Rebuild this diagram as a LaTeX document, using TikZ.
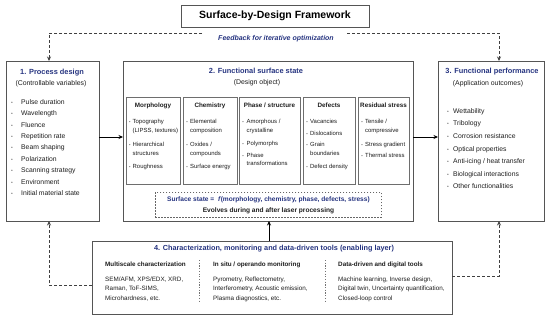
\documentclass[tikz,border=0pt]{standalone}
\usepackage{fontspec}
\setmainfont{Liberation Sans}
\usetikzlibrary{arrows.meta}
\definecolor{tblue}{RGB}{38,52,128}
\definecolor{bgray}{RGB}{85,85,85}
\definecolor{igray}{RGB}{110,110,110}
\definecolor{txt}{RGB}{30,30,30}
\begin{document}
\begin{tikzpicture}[x=1pt,y=-1pt,
  box/.style={draw=bgray, line width=0.8pt, inner sep=0pt, outer sep=0pt, anchor=north west, fill=white},
  ibox/.style={draw=igray, line width=0.6pt, inner sep=0pt, outer sep=0pt, anchor=north west},
  ttl/.style={font=\fontsize{7.4}{9}\selectfont\bfseries, text=tblue, anchor=base, inner sep=0pt},
  subt/.style={font=\fontsize{6.9}{9}\selectfont, text=txt, anchor=base, inner sep=0pt},
  item/.style={font=\fontsize{6.8}{9}\selectfont, text=txt, anchor=base west, inner sep=0pt},
  bul/.style={font=\fontsize{5}{6}\selectfont, text=black!55, anchor=base, inner sep=0pt},
  sbul/.style={font=\fontsize{4.2}{6}\selectfont, text=black!60, anchor=base, inner sep=0pt},
  hd/.style={font=\fontsize{6.3}{8}\selectfont\bfseries, text=txt, anchor=base, inner sep=0pt},
  sm/.style={font=\fontsize{5.95}{8}\selectfont, text=txt, anchor=base west, inner sep=0pt},
  bhd/.style={font=\fontsize{6.3}{8}\selectfont\bfseries, text=txt, anchor=base west, inner sep=0pt},
  bsm/.style={font=\fontsize{6.3}{8}\selectfont, text=txt, anchor=base west, inner sep=0pt},
  arr/.style={draw=black, line width=0.8pt, -{Stealth[length=4.5pt,width=4pt]}},
  darr/.style={draw=black!75, line width=0.8pt, dash pattern=on 3pt off 2pt, -{Stealth[length=4.5pt,width=4pt]}},
]
\useasboundingbox (0,0) rectangle (550,319);

% title
\node[draw=bgray, line width=0.9pt, minimum width=188pt, minimum height=22pt, inner sep=0pt,
      font=\fontsize{10.5}{12}\selectfont\bfseries] (title) at (275,16) {Surface-by-Design Framework};
\node[font=\fontsize{7}{8}\selectfont\bfseries\itshape, text=tblue, inner sep=0pt, anchor=base] (fb) at (276,40.5) {Feedback for iterative optimization};
\coordinate (fbL) at (202,33);
\coordinate (fbR) at (347,33);

% main boxes
\node[box, minimum width=93pt, minimum height=160pt] (b1) at (6,61) {};
\node[box, minimum width=290pt, minimum height=160pt] (b2) at (123,61) {};
\node[box, minimum width=106pt, minimum height=160pt] (b3) at (438,61) {};
\node[box, minimum width=360pt, minimum height=73pt] (b4) at (92,241) {};

% box 1
\node[ttl] (t1) at (52,74.5) {1. Process design};
\node[subt] (s1) at (51,85.3) {(Controllable variables)};
\foreach \t [count=\i] in {Pulse duration,Wavelength,Fluence,Repetition rate,Beam shaping,Polarization,Scanning strategy,Environment,Initial material state}{
  \node[bul] (p1b\i) at (12,{104.3+(\i-1)*11.4}) {•};
  \node[item] (p1t\i) at (21,{104.3+(\i-1)*11.4}) {\t};
}

% box 2
\node[ttl] (t2) at (256,73.5) {2. Functional surface state};
\node[subt] (s2) at (257,84.3) {(Design object)};
\node[ibox, minimum width=54pt, minimum height=87pt] (m) at (126,97) {};
\node[ibox, minimum width=54pt, minimum height=87pt] (c) at (183,97) {};
\node[ibox, minimum width=61pt, minimum height=87pt] (ph) at (239,97) {};
\node[ibox, minimum width=52pt, minimum height=87pt] (d) at (303,97) {};
\node[ibox, minimum width=51pt, minimum height=87pt] (r) at (358,97) {};
\node[hd] (mh) at (153,107.2) {Morphology};
\node[hd] (ch) at (210,107.2) {Chemistry};
\node[hd] (phh) at (269.5,107.2) {Phase / structure};
\node[hd] (dh) at (329,107.2) {Defects};
\node[hd] (rh) at (383.5,107.2) {Residual stress};

% morphology
\node[sbul] (mb1) at (129.8,123) {•}; \node[sm] (m1) at (132.5,123) {Topography};
\node[sm] (m1b) at (132.5,132) {(LIPSS, textures)};
\node[sbul] (mb2) at (129.8,146) {•}; \node[sm] (m2) at (132.5,146) {Hierarchical};
\node[sm] (m2b) at (132.5,155) {structures};
\node[sbul] (mb3) at (129.8,168) {•}; \node[sm] (m3) at (132.5,168) {Roughness};
% chemistry
\node[sbul] (cb1) at (187,123) {•}; \node[sm] (c1) at (190,123) {Elemental};
\node[sm] (c1b) at (190,132) {composition};
\node[sbul] (cb2) at (187,146) {•}; \node[sm] (c2) at (190,146) {Oxides /};
\node[sm] (c2b) at (190,155) {compounds};
\node[sbul] (cb3) at (187,168) {•}; \node[sm] (c3) at (190,168) {Surface energy};
% phase
\node[sbul] (phb1) at (243,123) {•}; \node[sm] (ph1) at (246.5,123) {Amorphous /};
\node[sm] (ph1b) at (246.5,132) {crystalline};
\node[sbul] (phb2) at (243,145) {•}; \node[sm] (ph2) at (246.5,145) {Polymorphs};
\node[sbul] (phb3) at (243,157) {•}; \node[sm] (ph3) at (246.5,157) {Phase};
\node[sm] (ph3b) at (246.5,165.5) {transformations};
% defects
\node[sbul] (db1) at (307,123) {•}; \node[sm] (d1) at (310,123) {Vacancies};
\node[sbul] (db2) at (307,135) {•}; \node[sm] (d2) at (310,135) {Dislocations};
\node[sbul] (db3) at (307,146) {•}; \node[sm] (d3) at (310,146) {Grain};
\node[sm] (d3b) at (310,155) {boundaries};
\node[sbul] (db4) at (307,168) {•}; \node[sm] (d4) at (310,168) {Defect density};
% residual stress
\node[sbul] (rb1) at (362,123) {•}; \node[sm] (r1) at (365,123) {Tensile /};
\node[sm] (r1b) at (365,132) {compressive};
\node[sbul] (rb2) at (362,146) {•}; \node[sm] (r2) at (365,146) {Stress gradient};
\node[sbul] (rb3) at (362,157) {•}; \node[sm] (r3) at (365,157) {Thermal stress};

% surface state dashed box
\node[draw=black!60, line width=0.6pt, dash pattern=on 1.5pt off 1.5pt, minimum width=226pt, minimum height=25pt, inner sep=0pt, anchor=north west] (ss) at (155,192) {};
\node[font=\fontsize{6.6}{8}\selectfont\bfseries, text=tblue, anchor=base, inner sep=0pt] (ss1) at (268.5,201.3) {Surface state =\ \ \textit{f}(morphology, chemistry, phase, defects, stress)};
\node[font=\fontsize{6.6}{8}\selectfont\bfseries, text=txt, anchor=base, inner sep=0pt] (ss2) at (268.5,212.3) {Evolves during and after laser processing};

% box 3
\node[ttl] (t3) at (492,73.5) {3. Functional performance};
\node[subt] (s3) at (488,85.3) {(Application outcomes)};
\foreach \t [count=\i] in {Wettability,Tribology,Corrosion resistance,Optical properties,Anti-icing / heat transfer,Biological interactions,Other functionalities}{
  \node[bul] (p3b\i) at (448,{113.3+(\i-1)*12.6}) {•};
  \node[item] (p3t\i) at (453,{113.3+(\i-1)*12.6}) {\t};
}

% box 4
\node[font=\fontsize{7.3}{9}\selectfont\bfseries, text=tblue, anchor=base, inner sep=0pt] (t4) at (274,250.5) {4. Characterization, monitoring and data-driven tools (enabling layer)};
\node[bhd] (h41) at (105,266.2) {Multiscale characterization};
\node[bhd] (h42) at (213,266.2) {In situ / operando monitoring};
\node[bhd] (h43) at (338,266.2) {Data-driven and digital tools};
\node[bsm] (a1) at (105,281) {SEM/AFM, XPS/EDX, XRD,};
\node[bsm] (a2) at (105,290.5) {Raman, ToF-SIMS,};
\node[bsm] (a3) at (105,300) {Microhardness, etc.};
\node[bsm] (bb1) at (213,281) {Pyrometry, Reflectometry,};
\node[bsm] (bb2) at (213,290.5) {Interferometry, Acoustic emission,};
\node[bsm] (bb3) at (213,300) {Plasma diagnostics, etc.};
\node[bsm] (cc1) at (338,281) {Machine learning, Inverse design,};
\node[bsm] (cc2) at (338,290.5) {Digital twin, Uncertainty quantification,};
\node[bsm] (cc3) at (338,300) {Closed-loop control};
\coordinate (sep1t) at (199,260); \coordinate (sep1b) at (199,302);
\coordinate (sep2t) at (325,260); \coordinate (sep2b) at (325,302);
\draw[black!55, line width=0.6pt, dash pattern=on 1.2pt off 1.5pt] (sep1t) -- (sep1b);
\draw[black!55, line width=0.6pt, dash pattern=on 1.2pt off 1.5pt] (sep2t) -- (sep2b);

% connectors
\draw[arr] ([yshift=4pt]b1.east) -- ([yshift=4pt]b2.west);
\draw[arr] ([yshift=4pt]b2.east) -- ([yshift=4pt]b3.west);
\draw[arr] ([xshift=146pt]b2.south west |- b4.north) -- ([xshift=146pt]b2.south west);
\draw[darr] (fbL) -| ([xshift=43pt]b1.north west);
\draw[darr] (fbR) -| ([xshift=61pt]b3.north west);
\draw[darr] ([yshift=-7.5pt]b4.west) -| ([xshift=43pt]b1.south west);
\draw[darr] ([yshift=1.5pt]b4.east) -| ([xshift=61pt]b3.south west);
\end{tikzpicture}
\end{document}
